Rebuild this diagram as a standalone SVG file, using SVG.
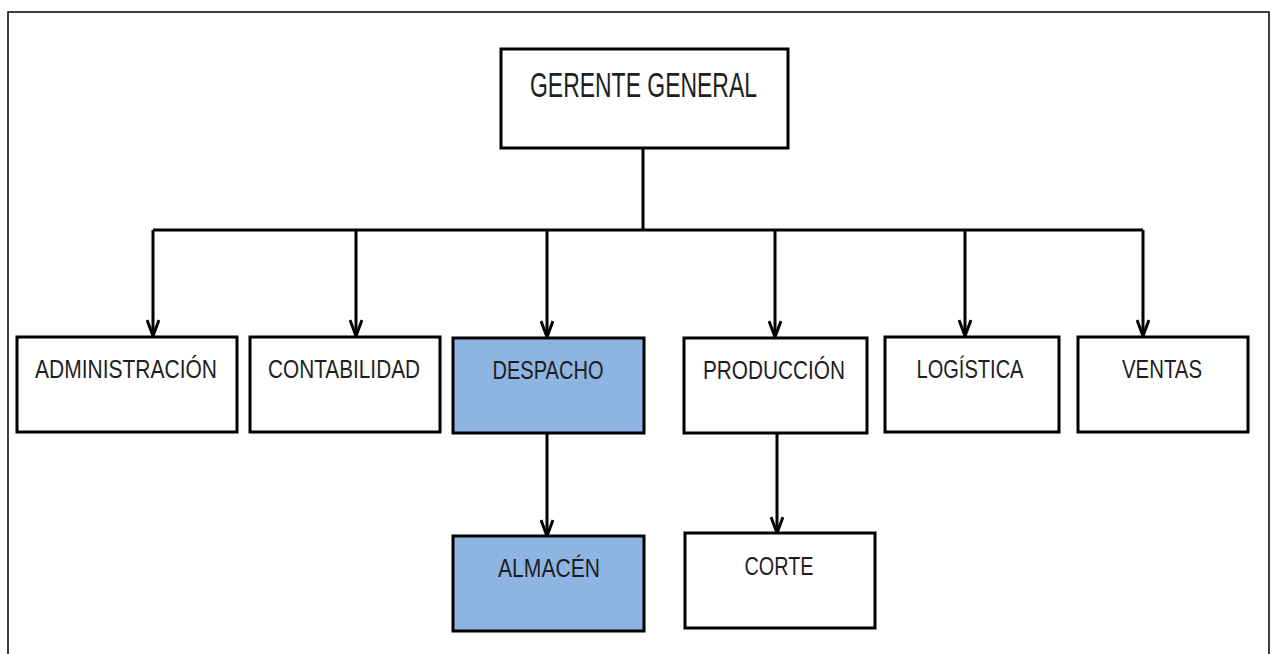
<svg xmlns="http://www.w3.org/2000/svg" width="1275" height="654" viewBox="0 0 1275 654">
<style>
.box{fill:#ffffff;stroke:#000;stroke-width:3}
.blue{fill:#8EB4E3}
.t{font-family:"Liberation Sans",Arial,sans-serif;font-size:26px;fill:#1e1e1e;text-anchor:middle}
.big{font-size:35px}
.c{fill:none;stroke:#000;stroke-width:3}
</style>
<defs>
<marker id="arr" markerUnits="userSpaceOnUse" viewBox="0 0 20 14" markerWidth="20" markerHeight="14" refX="17" refY="7" orient="auto">
<path d="M1,1 L17,7 L1,13" fill="none" stroke="#000" stroke-width="3"/>
</marker>
</defs>
<rect width="1275" height="654" fill="#fff"/>
<rect x="8" y="12" width="1261" height="670" fill="none" stroke="#000" stroke-width="1.5"/>
<g id="connectors">
<path class="c" d="M643,148 V230"/>
<path class="c" d="M153,230 H1143"/>
<path class="c" d="M153,230 V336" marker-end="url(#arr)"/>
<path class="c" d="M356,230 V336" marker-end="url(#arr)"/>
<path class="c" d="M547,230 V337" marker-end="url(#arr)"/>
<path class="c" d="M775,230 V337" marker-end="url(#arr)"/>
<path class="c" d="M965,230 V336" marker-end="url(#arr)"/>
<path class="c" d="M1143,230 V336" marker-end="url(#arr)"/>
<path class="c" d="M547,433 V536" marker-end="url(#arr)"/>
<path class="c" d="M777,433 V533" marker-end="url(#arr)"/>
</g>
<g id="gerente">
<rect class="box" x="501" y="49" width="287" height="99"/>
<text class="t big" x="643.5" y="97" textLength="227" lengthAdjust="spacingAndGlyphs">GERENTE GENERAL</text>
</g>
<g id="administracion">
<rect class="box" x="17" y="337" width="220" height="95"/>
<text class="t" x="126" y="378" textLength="182" lengthAdjust="spacingAndGlyphs">ADMINISTRACIÓN</text>
</g>
<g id="contabilidad">
<rect class="box" x="250" y="337" width="190" height="95"/>
<text class="t" x="344" y="378" textLength="152" lengthAdjust="spacingAndGlyphs">CONTABILIDAD</text>
</g>
<g id="despacho">
<rect class="box blue" x="453" y="338" width="191" height="95"/>
<text class="t" x="548" y="379" textLength="111" lengthAdjust="spacingAndGlyphs">DESPACHO</text>
</g>
<g id="produccion">
<rect class="box" x="684" y="338" width="183" height="95"/>
<text class="t" x="774" y="379" textLength="142" lengthAdjust="spacingAndGlyphs">PRODUCCIÓN</text>
</g>
<g id="logistica">
<rect class="box" x="885" y="337" width="174" height="95"/>
<text class="t" x="970" y="378" textLength="107" lengthAdjust="spacingAndGlyphs">LOGÍSTICA</text>
</g>
<g id="ventas">
<rect class="box" x="1078" y="337" width="170" height="95"/>
<text class="t" x="1162" y="378" textLength="80" lengthAdjust="spacingAndGlyphs">VENTAS</text>
</g>
<g id="almacen">
<rect class="box blue" x="453" y="536" width="191" height="95"/>
<text class="t" x="549" y="577" textLength="102" lengthAdjust="spacingAndGlyphs">ALMACÉN</text>
</g>
<g id="corte">
<rect class="box" x="685" y="533" width="190" height="95"/>
<text class="t" x="779" y="575" textLength="69" lengthAdjust="spacingAndGlyphs">CORTE</text>
</g>
</svg>
